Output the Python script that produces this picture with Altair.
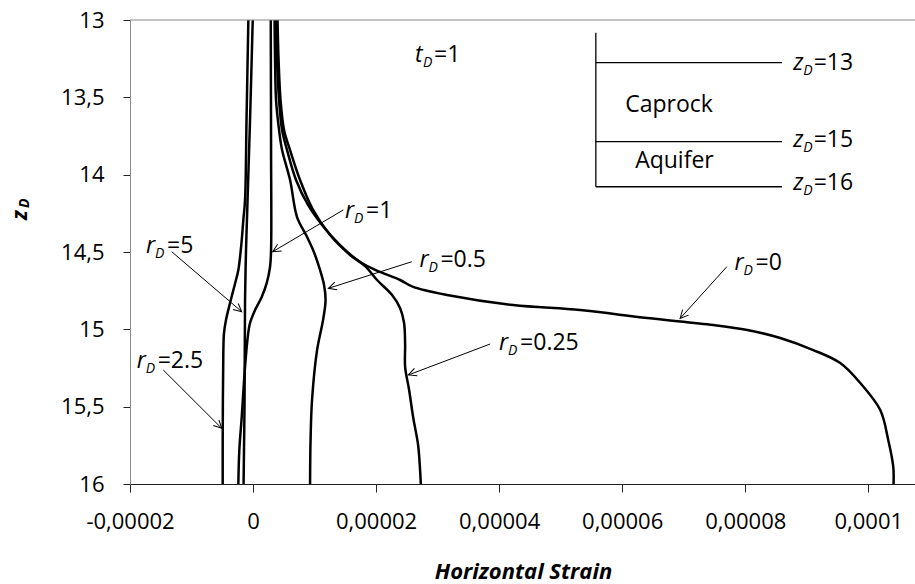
import math
import altair as alt
import pandas as pd

FONT = "Open Sans"
E = 1e-5  # strain values below are given in units of 1e-5

# ---- curves: z_D and horizontal strain (x1e-5) ----
z_r0 = [13.0, 13.259, 13.517, 13.711, 13.841, 14.034, 14.196, 14.325, 14.455, 14.565, 14.629,
        14.681, 14.726, 14.778, 14.843, 14.875, 14.927, 14.972, 15.004, 15.056, 15.134, 15.218,
        15.347, 15.522, 15.715, 15.890, 16.0]
s_r0 = [0.374, 0.390, 0.423, 0.472, 0.553, 0.699, 0.894, 1.122, 1.415, 1.740, 2.065,
        2.390, 2.602, 3.154, 4.228, 5.317, 6.407, 7.480, 8.033, 8.569, 9.106, 9.545,
        9.870, 10.195, 10.325, 10.407, 10.411]

z_r025 = [13.0, 13.259, 13.517, 13.711, 13.841, 14.034, 14.228, 14.390, 14.519, 14.591, 14.681,
          14.778, 14.862, 14.959, 15.101, 15.243, 15.392, 15.567, 15.748, 15.909, 16.0]
s_r025 = [0.398, 0.415, 0.447, 0.504, 0.602, 0.764, 0.976, 1.252, 1.577, 1.821, 2.016,
          2.260, 2.390, 2.455, 2.472, 2.472, 2.537, 2.602, 2.683, 2.715, 2.727]

z_r05 = [13.0, 13.259, 13.517, 13.711, 13.841, 14.034, 14.274, 14.390, 14.487, 14.616, 14.713,
         14.810, 14.940, 15.134, 15.457, 15.715, 16.0]
s_r05 = [0.350, 0.358, 0.374, 0.423, 0.472, 0.602, 0.715, 0.862, 0.976, 1.089, 1.154,
         1.179, 1.138, 1.041, 0.959, 0.935, 0.927]

z_r1 = [13.0, 13.841, 14.487, 14.597, 14.700, 14.791, 14.875, 14.959, 15.050, 15.243, 15.567,
        15.780, 16.0]
s_r1 = [0.288, 0.293, 0.293, 0.276, 0.223, 0.141, 0.033, -0.049, -0.086, -0.130, -0.184,
        -0.223, -0.239]

z_r25 = [13.0, 13.647, 14.164, 14.293, 14.450, 14.616, 14.705, 14.830, 14.938, 15.024, 15.153,
         15.715, 16.0]
s_r25 = [-0.076, -0.106, -0.130, -0.158, -0.190, -0.239, -0.293, -0.374, -0.439, -0.472, -0.483,
         -0.493, -0.493]

z_r5 = [13.0, 13.647, 14.164, 14.487, 14.810, 15.457, 16.0]
s_r5 = [-0.005, -0.049, -0.089, -0.114, -0.130, -0.138, -0.154]

curves = {"0": (z_r0, s_r0), "0.25": (z_r025, s_r025), "0.5": (z_r05, s_r05),
          "1": (z_r1, s_r1), "2.5": (z_r25, s_r25), "5": (z_r5, s_r5)}

# ---- annotation labels (position in data units: strain x1e-5, z_D) ----
lab_rest = ["=1", "=0.5", "=0", "=0.25", "=5", "=2.5"]
lab_x = [1.496, 2.704, 7.826, 4.000, -1.740, -1.891]
lab_z = [14.280, 14.599, 14.616, 15.134, 14.508, 15.252]
arr_x0 = [1.468, 2.580, 7.702, 3.854, -1.322, -1.459]
arr_z0 = [14.228, 14.563, 14.595, 15.095, 14.498, 15.263]
arr_x1 = [0.320, 1.224, 6.943, 2.525, -0.184, -0.509]
arr_z1 = [14.498, 14.735, 14.929, 15.295, 14.886, 15.640]

# time label
t_x, t_z, t_rest = [2.634], [13.270], ["=1"]

# inset diagram
inset_vx, inset_vz0, inset_vz1 = 5.572, 13.082, 14.078
inset_hx0, inset_hx1 = 5.572, 8.597
inset_hz = [13.276, 13.787, 14.078]
inset_lab_x = [8.780, 8.780, 8.780]
inset_lab_z = [13.323, 13.819, 14.099]
inset_lab_rest = ["=13", "=15", "=16"]
layer_names = ["Caprock", "Aquifer"]
layer_x = [6.049, 6.211]
layer_z = [13.593, 13.959]

x_ticks = [-0.00002, 0, 0.00002, 0.00004, 0.00006, 0.00008, 0.0001]
y_ticks = [13, 13.5, 14, 14.5, 15, 15.5, 16]

X_MIN, X_MAX = -0.00002, 0.0001076
W, H = 785, 464

# ---- tables ----
rows = []
for name, (zs, ss) in curves.items():
    for i, (z, s) in enumerate(zip(zs, ss)):
        rows.append({"curve": name, "order": i, "strain": s * E, "z": z})
df_curves = pd.DataFrame(rows)

px_x = W / (X_MAX - X_MIN)
px_z = H / 3.0
arrows = pd.DataFrame({
    "x0": [v * E for v in arr_x0], "z0": arr_z0,
    "x1": [v * E for v in arr_x1], "z1": arr_z1,
})
arrows["angle"] = [
    math.degrees(math.atan2((r.z1 - r.z0) * px_z, (r.x1 - r.x0) * px_x)) % 360
    for r in arrows.itertuples()
]
labels = pd.DataFrame({"x": [v * E for v in lab_x], "z": lab_z, "rest": lab_rest})
tlab = pd.DataFrame({"x": [v * E for v in t_x], "z": t_z, "rest": t_rest})
zlab = pd.DataFrame({"x": [v * E for v in inset_lab_x], "z": inset_lab_z, "rest": inset_lab_rest})
hlines = pd.DataFrame({"x0": [inset_hx0 * E] * 3, "x1": [inset_hx1 * E] * 3, "z": inset_hz})
vline = pd.DataFrame({"x": [inset_vx * E], "z0": [inset_vz0], "z1": [inset_vz1]})
lays = pd.DataFrame({"x": [v * E for v in layer_x], "z": layer_z, "name": layer_names})

xs = alt.Scale(domain=[X_MIN, X_MAX], nice=False, zero=False)
ys = alt.Scale(domain=[13, 16], reverse=True, nice=False, zero=False)

x_axis = alt.Axis(
    values=x_ticks, labelExpr="replace(toString(datum.value), '.', ',')",
    title="Horizontal Strain", titleFont=FONT, titleFontSize=22, titleFontWeight="bold",
    titleFontStyle="italic", titleX=393, titleY=94, titleBaseline="alphabetic",
    titleAlign="center", titleAngle=0, titleColor="black",
    labelFont=FONT, labelFontSize=22, labelColor="black", labelBaseline="alphabetic",
    labelPadding=36, tickSize=8, tickColor="#222", domainColor="#222", grid=False,
    labelOverlap=False, labelFlush=False,
)
y_axis = alt.Axis(
    values=y_ticks, labelExpr="replace(toString(datum.value), '.', ',')", title=None,
    labelFont=FONT, labelFontSize=22, labelColor="black", labelPadding=19, tickSize=7,
    tickColor="#222", domainColor="#888", grid=False, labelOverlap=False, labelFlush=False,
)


def X(field):
    return alt.X(field, type="quantitative", scale=xs, axis=x_axis, title="Horizontal Strain")


def Y(field):
    return alt.Y(field, type="quantitative", scale=ys, axis=y_axis, title=None)


lines = alt.Chart(df_curves).mark_line(
    color="black", strokeWidth=2.5, interpolate="catmull-rom", clip=True
).encode(x=X("strain"), y=Y("z"), detail="curve:N", order="order:Q")

top_border = alt.Chart(pd.DataFrame({"z": [13]})).mark_rule(color="#888", strokeWidth=1).encode(
    y=Y("z")
)

arrow_lines = alt.Chart(arrows).mark_rule(color="black", strokeWidth=1).encode(
    x=X("x0"), x2="x1:Q", y=Y("z0"), y2="z1:Q",
)
arrow_heads = alt.Chart(arrows).mark_point(
    shape="M-1,-0.5L0,0L-1,0.5", filled=False, color="black", strokeWidth=1, size=256, opacity=1
).encode(x=X("x1"), y=Y("z1"), angle=alt.Angle("angle:Q", scale=None))


def rich(df, letter, dx_sub, dx_rest):
    base = alt.Chart(df).encode(x=X("x"), y=Y("z"))
    main = base.mark_text(text=letter, font=FONT, fontSize=23, fontStyle="italic",
                          align="left", baseline="alphabetic", color="black")
    sub = base.mark_text(text="D", font=FONT, fontSize=14, fontStyle="italic",
                         align="left", baseline="alphabetic", dx=dx_sub, dy=5, color="black")
    rest = base.mark_text(font=FONT, fontSize=23, align="left", baseline="alphabetic",
                          dx=dx_rest, color="black").encode(text="rest:N")
    return [main, sub, rest]


r_labels = rich(labels, "r", 9, 21)
t_label = rich(tlab, "t", 8, 19)
z_labels = rich(zlab, "z", 10, 20.5)

inset_h = alt.Chart(hlines).mark_rule(color="black", strokeWidth=1.3).encode(
    x=X("x0"), x2="x1:Q", y=Y("z")
)
inset_v = alt.Chart(vline).mark_rule(color="black", strokeWidth=1.3).encode(
    x=X("x"), y=Y("z0"), y2="z1:Q"
)
layer_text = alt.Chart(lays).mark_text(
    font=FONT, fontSize=23, align="left", baseline="alphabetic", color="black"
).encode(x=X("x"), y=Y("z"), text="name:N")

# y-axis title z_D (rotated)
ytitle_z = alt.Chart(pd.DataFrame({"t": ["z"]})).mark_text(
    font=FONT, fontSize=21, fontWeight="bold", fontStyle="italic", angle=270,
    align="left", baseline="alphabetic", color="black"
).encode(x=alt.value(-103), y=alt.value(200), text="t:N")
ytitle_d = alt.Chart(pd.DataFrame({"t": ["D"]})).mark_text(
    font=FONT, fontSize=14, fontWeight="bold", fontStyle="italic", angle=270,
    align="left", baseline="alphabetic", color="black"
).encode(x=alt.value(-101), y=alt.value(188), text="t:N")

chart = alt.layer(
    lines, top_border, arrow_lines, arrow_heads, *r_labels, *t_label, *z_labels,
    inset_h, inset_v, layer_text, ytitle_z, ytitle_d
).properties(
    width=W, height=H,
    autosize=alt.AutoSizeParams(type="none"),
    padding={"left": 130, "top": 20, "right": 0, "bottom": 100},
    background="white",
).configure_view(stroke=None)

chart.save("out.html", embed_options={"renderer": "svg", "actions": False})
